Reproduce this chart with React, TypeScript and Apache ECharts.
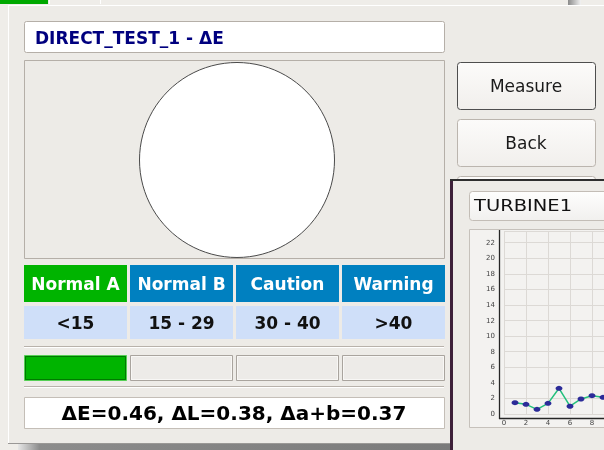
import React, { useEffect, useRef } from "react";
import * as echarts from "echarts";

// ---- data ----
const titleText = "DIRECT_TEST_1 - ΔE";
const categories = ["Normal A", "Normal B", "Caution", "Warning"];
const ranges = ["<15", "15 - 29", "30 - 40", ">40"];
const headerColors = ["#00b400", "#0080c0", "#0080c0", "#0080c0"];
const activeIndex = 0;
const deltaE = 0.46;
const deltaL = 0.38;
const deltaAB = 0.37;
const buttons = ["Measure", "Back"];
const turbineName = "TURBINE1";
const turbineX = [1, 2, 3, 4, 5, 6, 7, 8, 9];
const turbineY = [1.45, 1.24, 0.6, 1.37, 3.3, 1.0, 1.93, 2.35, 2.14];

const FONT = "DejaVu Sans";
const BG = "#edebe7";

export default function App() {
  const ref = useRef<HTMLDivElement>(null);
  useEffect(() => {
    if (!ref.current) return;
    const chart = echarts.init(ref.current, undefined, { renderer: "svg" });
    const G = echarts.graphic;
    const els: any[] = [];
    const rect = (x: number, y: number, w: number, h: number, style: any, z = 1, r = 0) =>
      els.push({ type: "rect", z, shape: { x, y, width: w, height: h, r }, style });
    const line = (x1: number, y1: number, x2: number, y2: number, stroke: string, lineWidth = 1, z = 1) =>
      els.push({ type: "line", z, shape: { x1, y1, x2, y2 }, style: { stroke, lineWidth } });
    const text = (t: string, x: number, y: number, o: any, z = 1) =>
      els.push({
        type: "text",
        z,
        x,
        y,
        style: { text: t, fontFamily: FONT, verticalAlign: "middle", ...o },
      });

    // page background & window behind
    rect(0, 0, 604, 450, { fill: "#efede9" }, 0);
    rect(0, 0, 48, 4, { fill: "#00a800" }, 0);
    line(49.5, 0, 49.5, 4, "#ffffff", 1, 0);
    line(100.5, 0, 100.5, 4, "#ffffff", 1, 0);
    rect(568, 0, 13, 5, {
      fill: new G.LinearGradient(0, 0, 1, 0, [
        { offset: 0, color: "#8a8a8a" },
        { offset: 1, color: "#f2f2f2" },
      ]),
    }, 0);

    // main dialog
    rect(8, 5, 600, 438, { fill: BG });
    line(8, 5.5, 604, 5.5, "#ffffff");
    line(8.5, 5, 8.5, 443, "#ffffff");
    line(8, 443.5, 450, 443.5, "#9a9896");
    rect(18, 444, 432, 6, {
      fill: new G.LinearGradient(0, 0, 1, 0, [
        { offset: 0, color: "#e6e6e6" },
        { offset: 0.05, color: "#8c8c8c" },
        { offset: 1, color: "#7a7a7a" },
      ]),
    });

    // title box
    rect(24.5, 21.5, 420, 31, { fill: "#ffffff", stroke: "#b5afa8", lineWidth: 1 }, 1, 2);
    text(titleText, 35, 37.5, { fontSize: 17, fontWeight: "bold", fill: "#00007f" });

    // circle panel
    rect(24.5, 60.5, 420, 198, { fill: BG, stroke: "#b5afa8", lineWidth: 1 });
    els.push({
      type: "circle",
      z: 1,
      shape: { cx: 237, cy: 160, r: 97.5 },
      style: { fill: "#ffffff", stroke: "#4a4a4a", lineWidth: 1 },
    });

    // category table
    const cellX = [24, 130, 236, 342];
    const cellW = 103;
    categories.forEach((c, i) => {
      rect(cellX[i], 265, cellW, 37, { fill: headerColors[i] });
      text(c, cellX[i] + cellW / 2, 284, { fontSize: 17, fontWeight: "bold", fill: "#ffffff", align: "center" });
      rect(cellX[i], 306, cellW, 33, { fill: "#cfdff9" });
      text(ranges[i], cellX[i] + cellW / 2, 323, { fontSize: 17, fontWeight: "bold", fill: "#111111", align: "center" });
    });

    // separators
    line(24, 346.5, 444, 346.5, "#b8b2ab");
    line(24, 347.5, 444, 347.5, "#ffffff");
    line(24, 386.5, 444, 386.5, "#b8b2ab");
    line(24, 387.5, 444, 387.5, "#ffffff");

    // indicators
    categories.forEach((_, i) => {
      if (i === activeIndex) {
        rect(cellX[i] + 0.5, 355.5, cellW - 1, 25, { fill: "#00b400", stroke: "#55d055", lineWidth: 1 });
        rect(cellX[i] + 1.5, 356.5, cellW - 3, 23, { fill: "#00b400", stroke: "#007a00", lineWidth: 1 });
      } else {
        rect(cellX[i] + 0.5, 355.5, cellW - 1, 25, { fill: "#edebe8", stroke: "#a9a49e", lineWidth: 1 });
        rect(cellX[i] + 1.5, 356.5, cellW - 3, 23, { fill: "#edebe8", stroke: "#f8f7f5", lineWidth: 1 });
      }
    });

    // result box
    rect(24.5, 397.5, 420, 31, { fill: "#ffffff", stroke: "#c4beb7", lineWidth: 1 });
    text(`ΔE=${deltaE.toFixed(2)}, ΔL=${deltaL.toFixed(2)}, Δa+b=${deltaAB.toFixed(2)}`, 234, 413, {
      fontSize: 20,
      fontWeight: "bold",
      fill: "#000000",
      align: "center",
    });

    // buttons
    const btnFill = () =>
      new G.LinearGradient(0, 0, 0, 1, [
        { offset: 0, color: "#fcfbfa" },
        { offset: 1, color: "#f1efec" },
      ]);
    const btnY = [62, 119, 176];
    btnY.forEach((y, i) => {
      rect(457.5, y + 0.5, 138, 47, { fill: btnFill(), stroke: i === 0 ? "#4e4e4e" : "#bbb5ae", lineWidth: 1 }, 1, 3);
      if (buttons[i]) text(buttons[i], 526, y + 24, { fontSize: 17, fill: "#1a1a1a", align: "center" });
    });

    // turbine window (overlapping)
    rect(450, 179, 160, 280, { fill: BG }, 2);
    rect(450, 179, 3, 280, { fill: "#3d2039" }, 2);
    line(450, 180, 610, 180, "#2e2e2e", 2, 2);
    rect(469.5, 191.5, 150, 29, {
      fill: new G.LinearGradient(0, 0, 0, 1, [
        { offset: 0, color: "#fefefd" },
        { offset: 1, color: "#f1f0ee" },
      ]),
      stroke: "#c3bdb6",
      lineWidth: 1,
    }, 2, 3);
    els.push({
      type: "text",
      z: 2,
      x: 474,
      y: 206,
      scaleX: 1.3,
      style: { text: turbineName, fontFamily: FONT, fontSize: 15, fill: "#111111", verticalAlign: "middle" },
    });
    rect(469.5, 229.5, 150, 198, { fill: "#f3f2f0", stroke: "#c6c1bb", lineWidth: 1 }, 2);
    line(499.5, 230, 499.5, 419, "#262626", 1.3, 7);
    line(499, 418.5, 610, 418.5, "#262626", 1.3, 7);

    const axisLabel = { fontSize: 7, color: "#444444", fontFamily: FONT };
    chart.setOption({
      animation: false,
      grid: { left: 504, top: 231, right: 0, height: 183, containLabel: false },
      xAxis: {
        type: "value",
        min: 0,
        max: 100 / 11,
        interval: 2,
        z: 5,
        axisLine: { show: false },
        axisTick: { show: false },
        axisLabel: { ...axisLabel, margin: 5, showMaxLabel: false },
        splitLine: { show: true, lineStyle: { color: "#dcd9d5", width: 1 } },
      },
      yAxis: {
        type: "value",
        min: 0,
        max: 23.5,
        interval: 2,
        z: 5,
        axisLine: { show: false },
        axisTick: { show: false },
        axisLabel: { ...axisLabel, margin: 9, showMaxLabel: false },
        splitLine: { show: true, lineStyle: { color: "#dcd9d5", width: 1 } },
      },
      series: [
        {
          type: "line",
          z: 6,
          clip: false,
          data: turbineX.map((x, i) => [x, turbineY[i]]),
          symbol: "circle",
          symbolSize: [7, 5],
          itemStyle: { color: "#2b2b98" },
          lineStyle: { color: "#22c07c", width: 1.5 },
        },
      ],
      graphic: { elements: els },
    });
    return () => chart.dispose();
  }, []);
  return <div ref={ref} style={{ position: "fixed", left: 0, top: 0, width: 604, height: 450 }} />;
}
